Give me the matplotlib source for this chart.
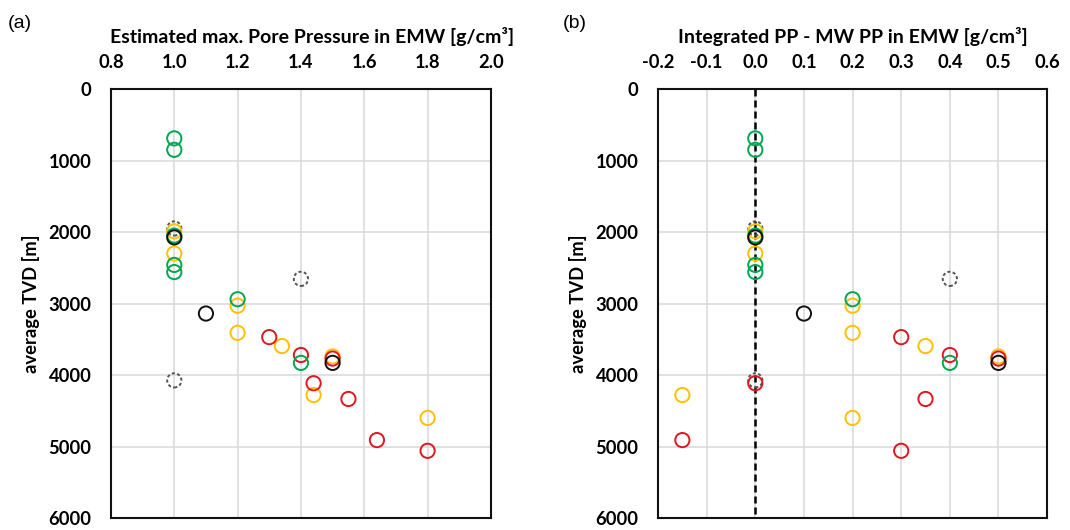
import numpy as np
import matplotlib
matplotlib.use("Agg")
import matplotlib.pyplot as plt

# depth [m], estimated max pore pressure [g/cm3], integrated PP - MW PP [g/cm3]
green_tvd = [690, 850, 2050, 2460, 2560, 2940, 3830]
green_pp = [1.0, 1.0, 1.0, 1.0, 1.0, 1.2, 1.4]
green_diff = [0.0, 0.0, 0.0, 0.0, 0.0, 0.2, 0.4]

yellow_tvd = [1990, 2300, 3030, 3410, 3595, 3740, 4280, 4600]
yellow_pp = [1.0, 1.0, 1.2, 1.2, 1.34, 1.5, 1.44, 1.8]
yellow_diff = [0.0, 0.0, 0.2, 0.2, 0.35, 0.5, -0.15, 0.2]

red_tvd = [3470, 3720, 3770, 4115, 4335, 4910, 5060]
red_pp = [1.3, 1.4, 1.5, 1.44, 1.55, 1.64, 1.8]
red_diff = [0.3, 0.4, 0.5, 0.0, 0.35, -0.15, 0.3]

black_tvd = [2075, 3140, 3830]
black_pp = [1.0, 1.1, 1.5]
black_diff = [0.0, 0.1, 0.5]

grey_tvd = [1950, 2655, 4075]
grey_pp = [1.0, 1.4, 1.0]
grey_diff = [0.0, 0.4, 0.0]

pp_ticks = [0.8, 1.0, 1.2, 1.4, 1.6, 1.8, 2.0]
diff_ticks = [-0.2, -0.1, 0.0, 0.1, 0.2, 0.3, 0.4, 0.5, 0.6]
tvd_ticks = [0, 1000, 2000, 3000, 4000, 5000, 6000]

series = [
    (grey_tvd, grey_pp, grey_diff, "#555555", (0, (1.6, 1.2))),
    (yellow_tvd, yellow_pp, yellow_diff, "#FFC000", "-"),
    (red_tvd, red_pp, red_diff, "#E0161E", "-"),
    (green_tvd, green_pp, green_diff, "#00A650", "-"),
    (black_tvd, black_pp, black_diff, "#111111", "-"),
]

plt.rcParams["font.family"] = ["Lato", "DejaVu Sans"]
plt.rcParams["font.weight"] = "bold"
fs = 13.2

fig = plt.figure(figsize=(10.7, 5.3), dpi=100)
ax1 = fig.add_axes([0.1037, 0.0226, 0.3551, 0.8094])
ax2 = fig.add_axes([0.6150, 0.0226, 0.3636, 0.8094])


def style(ax, xticks, xlabel):
    ax.set_xlim(xticks[0], xticks[-1])
    ax.set_ylim(6000, 0)
    ax.set_xticks(xticks)
    ax.set_xticklabels(["%.1f" % t for t in xticks])
    ax.set_yticks(tvd_ticks)
    ax.xaxis.tick_top()
    ax.xaxis.set_label_position("top")
    ax.tick_params(axis="x", length=0, pad=13, labelsize=fs)
    ax.tick_params(axis="y", length=0, pad=14, labelsize=fs)
    for lab in ax.get_xticklabels() + ax.get_yticklabels():
        lab.set_fontweight("bold")
    ax.grid(True, color="#d9d9d9", linewidth=1.1, zorder=0)
    ax.set_axisbelow(True)
    for sp in ax.spines.values():
        sp.set_color("#111111")
        sp.set_linewidth(1.5)
    ax.set_xlabel(xlabel, fontsize=14, fontweight="bold", labelpad=8)
    ax.set_ylabel("average TVD [m]", fontsize=fs, fontweight="bold", labelpad=6)


style(ax1, pp_ticks, "Estimated max. Pore Pressure in EMW [g/cm³]")
style(ax2, diff_ticks, "Integrated PP - MW PP in EMW [g/cm³]")
ax1.xaxis.label.set_x(0.529)

# zero line in the difference plot
ax2.plot([0, 0], [0, 6000], color="black", linewidth=1.8, dashes=(2.8, 1.6), zorder=1)

for tvd, pp, diff, col, ls in series:
    ax1.scatter(pp, tvd, s=105, facecolors="none", edgecolors=col,
                linewidths=1.4, linestyles=[ls], zorder=3, clip_on=False)
    ax2.scatter(diff, tvd, s=105, facecolors="none", edgecolors=col,
                linewidths=1.4, linestyles=[ls], zorder=3, clip_on=False)

fig.text(0.007, 0.948, "(a)", fontsize=14, fontweight="normal",
         family=["Liberation Sans", "DejaVu Sans"])
fig.text(0.526, 0.948, "(b)", fontsize=14, fontweight="normal",
         family=["Liberation Sans", "DejaVu Sans"])

fig.savefig("out.png", dpi=100)
